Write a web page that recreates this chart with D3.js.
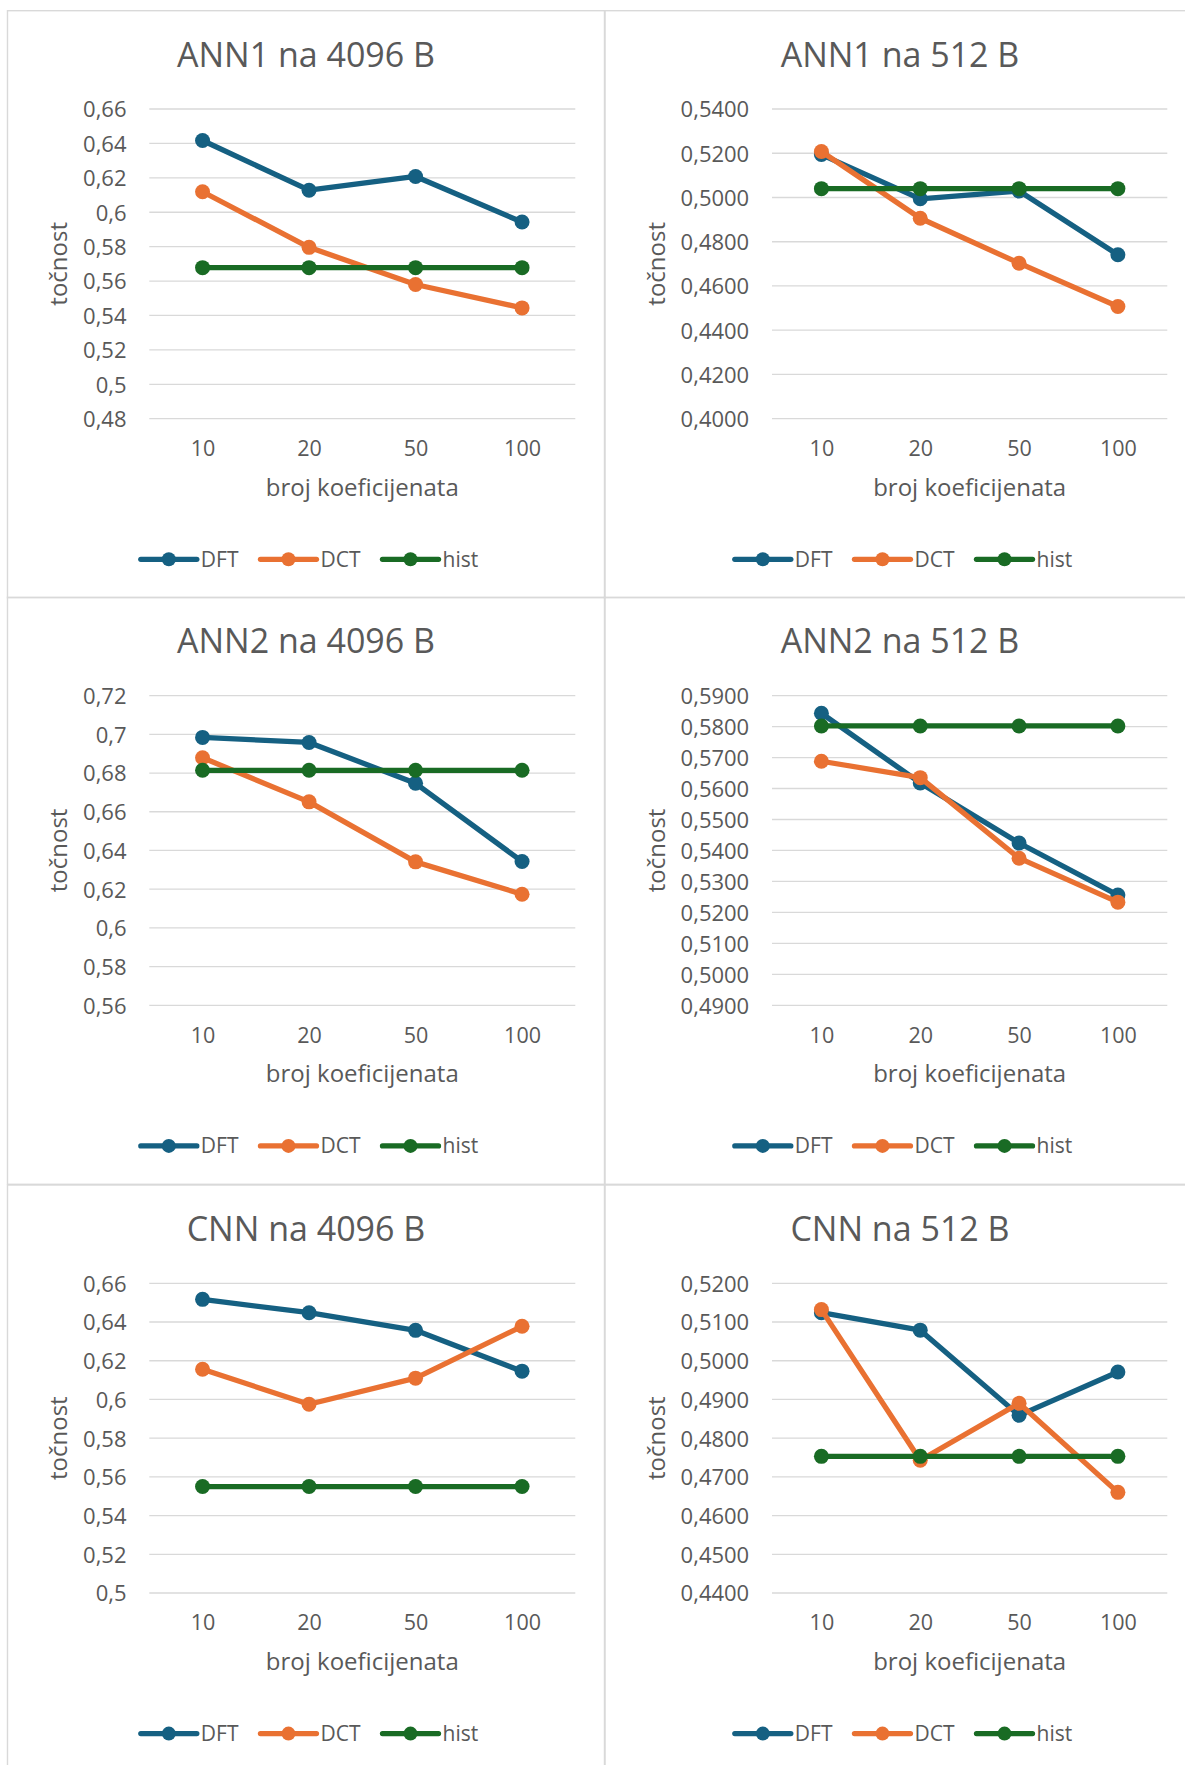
<!DOCTYPE html>
<html>
<head>
<meta charset="utf-8">
<script src="https://cdn.jsdelivr.net/npm/d3@7"></script>
<style>
  html, body { margin: 0; padding: 0; background: #ffffff; }
  svg { display: block; }
  text { font-family: "Open Sans", "Liberation Sans", sans-serif; fill: #595959; }
</style>
</head>
<body>
<svg id="chart" width="1185" height="1765"></svg>
<script>
// ---------------- DATA ----------------
const categories = ["10", "20", "50", "100"];
const seriesNames = ["DFT", "DCT", "hist"];
const titles = ["ANN1 na 4096 B", "ANN1 na 512 B", "ANN2 na 4096 B", "ANN2 na 512 B", "CNN na 4096 B", "CNN na 512 B"];
const xAxisTitle = "broj koeficijenata";
const yAxisTitle = "točnost";

const ann1_4096_DFT  = [0.6417, 0.6128, 0.6208, 0.5943];
const ann1_4096_DCT  = [0.6119, 0.5796, 0.5580, 0.5444];
const ann1_4096_hist = [0.5678, 0.5678, 0.5678, 0.5678];

const ann1_512_DFT  = [0.5194, 0.4994, 0.5029, 0.4741];
const ann1_512_DCT  = [0.5208, 0.4906, 0.4703, 0.4507];
const ann1_512_hist = [0.5040, 0.5040, 0.5040, 0.5040];

const ann2_4096_DFT  = [0.6984, 0.6958, 0.6747, 0.6343];
const ann2_4096_DCT  = [0.6879, 0.6651, 0.6341, 0.6174];
const ann2_4096_hist = [0.6814, 0.6814, 0.6814, 0.6814];

const ann2_512_DFT  = [0.5843, 0.5618, 0.5424, 0.5256];
const ann2_512_DCT  = [0.5688, 0.5635, 0.5375, 0.5233];
const ann2_512_hist = [0.5802, 0.5802, 0.5802, 0.5802];

const cnn_4096_DFT  = [0.6517, 0.6448, 0.6357, 0.6146];
const cnn_4096_DCT  = [0.6156, 0.5975, 0.6110, 0.6378];
const cnn_4096_hist = [0.5550, 0.5550, 0.5550, 0.5550];

const cnn_512_DFT  = [0.5124, 0.5079, 0.4859, 0.4971];
const cnn_512_DCT  = [0.5132, 0.4743, 0.4890, 0.4660];
const cnn_512_hist = [0.4753, 0.4753, 0.4753, 0.4753];

const ticksANN1_4096 = [0.48, 0.50, 0.52, 0.54, 0.56, 0.58, 0.60, 0.62, 0.64, 0.66];
const ticksANN1_512  = [0.40, 0.42, 0.44, 0.46, 0.48, 0.50, 0.52, 0.54];
const ticksANN2_4096 = [0.56, 0.58, 0.60, 0.62, 0.64, 0.66, 0.68, 0.70, 0.72];
const ticksANN2_512  = [0.49, 0.50, 0.51, 0.52, 0.53, 0.54, 0.55, 0.56, 0.57, 0.58, 0.59];
const ticksCNN_4096  = [0.50, 0.52, 0.54, 0.56, 0.58, 0.60, 0.62, 0.64, 0.66];
const ticksCNN_512   = [0.44, 0.45, 0.46, 0.47, 0.48, 0.49, 0.50, 0.51, 0.52];

// ---------------- STYLE / LAYOUT ----------------
const colors = { DFT: "#156082", DCT: "#E97132", hist: "#196B24" };
const locale = d3.formatLocale({ decimal: ",", thousands: ".", grouping: [3], currency: ["", ""] });
const fmtGeneral = locale.format("~g");
const fmt4 = locale.format(".4f");

const cols = [
  { left: 7.5, right: 605, plotL: 149.3, plotR: 575.3, cx: 306, yTitleX: 66.8, fmt: fmtGeneral },
  { left: 604.5, right: 1200, plotL: 772, plotR: 1167.3, cx: 900, yTitleX: 665, fmt: fmt4 }
];
const rowTops = [10.7, 597.3, 1185];
const panelH = 587;

const panels = [
  { title: titles[0], ticks: ticksANN1_4096, series: [ann1_4096_DFT, ann1_4096_DCT, ann1_4096_hist] },
  { title: titles[1], ticks: ticksANN1_512,  series: [ann1_512_DFT,  ann1_512_DCT,  ann1_512_hist] },
  { title: titles[2], ticks: ticksANN2_4096, series: [ann2_4096_DFT, ann2_4096_DCT, ann2_4096_hist] },
  { title: titles[3], ticks: ticksANN2_512,  series: [ann2_512_DFT,  ann2_512_DCT,  ann2_512_hist] },
  { title: titles[4], ticks: ticksCNN_4096,  series: [cnn_4096_DFT,  cnn_4096_DCT,  cnn_4096_hist] },
  { title: titles[5], ticks: ticksCNN_512,   series: [cnn_512_DFT,   cnn_512_DCT,   cnn_512_hist] }
];

const svg = d3.select("#chart");
svg.append("rect").attr("width", 1185).attr("height", 1765).attr("fill", "#fff");

panels.forEach((p, i) => {
  const col = cols[i % 2];
  const top = rowTops[Math.floor(i / 2)];
  const plotTop = top + 98.3, plotBottom = top + 408;
  const g = svg.append("g");

  // panel border
  g.append("rect")
    .attr("x", col.left).attr("y", top)
    .attr("width", col.right - col.left).attr("height", panelH)
    .attr("fill", "none").attr("stroke", "#D9D9D9").attr("stroke-width", 1.4);

  const x = d3.scalePoint().domain(categories).range([col.plotL, col.plotR]).padding(0.5);
  const y = d3.scaleLinear().domain(d3.extent(p.ticks)).range([plotBottom, plotTop]);

  // gridlines
  g.append("g").selectAll("line").data(p.ticks).join("line")
    .attr("x1", col.plotL).attr("x2", col.plotR)
    .attr("y1", d => y(d)).attr("y2", d => y(d))
    .attr("stroke", "#D9D9D9").attr("stroke-width", 1.3);

  // y axis
  const ya = g.append("g").attr("transform", `translate(${col.plotL},0)`)
    .call(d3.axisLeft(y).tickValues(p.ticks).tickFormat(col.fmt).tickSize(0).tickPadding(22.8));
  ya.select(".domain").remove();
  ya.selectAll("text").attr("dy", "0.36em").style("font-size", "22px")
    .style("font-family", "'Open Sans', sans-serif").attr("fill", "#595959");

  // x axis
  const xa = g.append("g").attr("transform", `translate(0,${top + 445.3})`)
    .call(d3.axisBottom(x).tickSize(0));
  xa.select(".domain").remove();
  xa.selectAll("text").attr("y", 0).attr("dy", null).style("font-size", "21.5px")
    .style("font-family", "'Open Sans', sans-serif").attr("fill", "#595959");

  // title
  g.append("text").attr("x", col.cx).attr("y", top + 56)
    .attr("text-anchor", "middle").style("font-size", "34px").text(p.title);

  // axis titles
  g.append("text").attr("x", (col.plotL + col.plotR) / 2).attr("y", top + 484.8)
    .attr("text-anchor", "middle").style("font-size", "24px").text(xAxisTitle);
  g.append("text")
    .attr("transform", `translate(${col.yTitleX},${(plotTop + plotBottom) / 2}) rotate(-90)`)
    .attr("text-anchor", "middle").style("font-size", "24px").text(yAxisTitle);

  // series
  const line = d3.line().x((d, k) => x(categories[k])).y(d => y(d));
  p.series.forEach((vals, s) => {
    const c = colors[seriesNames[s]];
    g.append("path").datum(vals).attr("d", line)
      .attr("fill", "none").attr("stroke", c).attr("stroke-width", 5.3)
      .attr("stroke-linejoin", "round").attr("stroke-linecap", "round");
    g.append("g").selectAll("circle").data(vals).join("circle")
      .attr("cx", (d, k) => x(categories[k])).attr("cy", d => y(d))
      .attr("r", 7.5).attr("fill", c);
  });

  // legend
  const ly = top + 548.6;
  const lg = g.append("g");
  const items = seriesNames.map(name => {
    const it = lg.append("g");
    it.append("line").attr("x1", 0).attr("x2", 56).attr("y1", 0).attr("y2", 0)
      .attr("stroke", colors[name]).attr("stroke-width", 5.3).attr("stroke-linecap", "round");
    it.append("circle").attr("cx", 28).attr("cy", 0).attr("r", 7).attr("fill", colors[name]);
    const t = it.append("text").attr("x", 60).attr("y", 0).attr("dy", "0.36em")
      .style("font-size", "21px").text(name);
    return { it, w: 60 + t.node().getComputedTextLength() };
  });
  const gap = 22;
  const total = d3.sum(items, d => d.w) + gap * (items.length - 1);
  let cur = col.cx + 3.5 - total / 2;
  items.forEach(d => {
    d.it.attr("transform", `translate(${cur},${ly})`);
    cur += d.w + gap;
  });
});
</script>
</body>
</html>
